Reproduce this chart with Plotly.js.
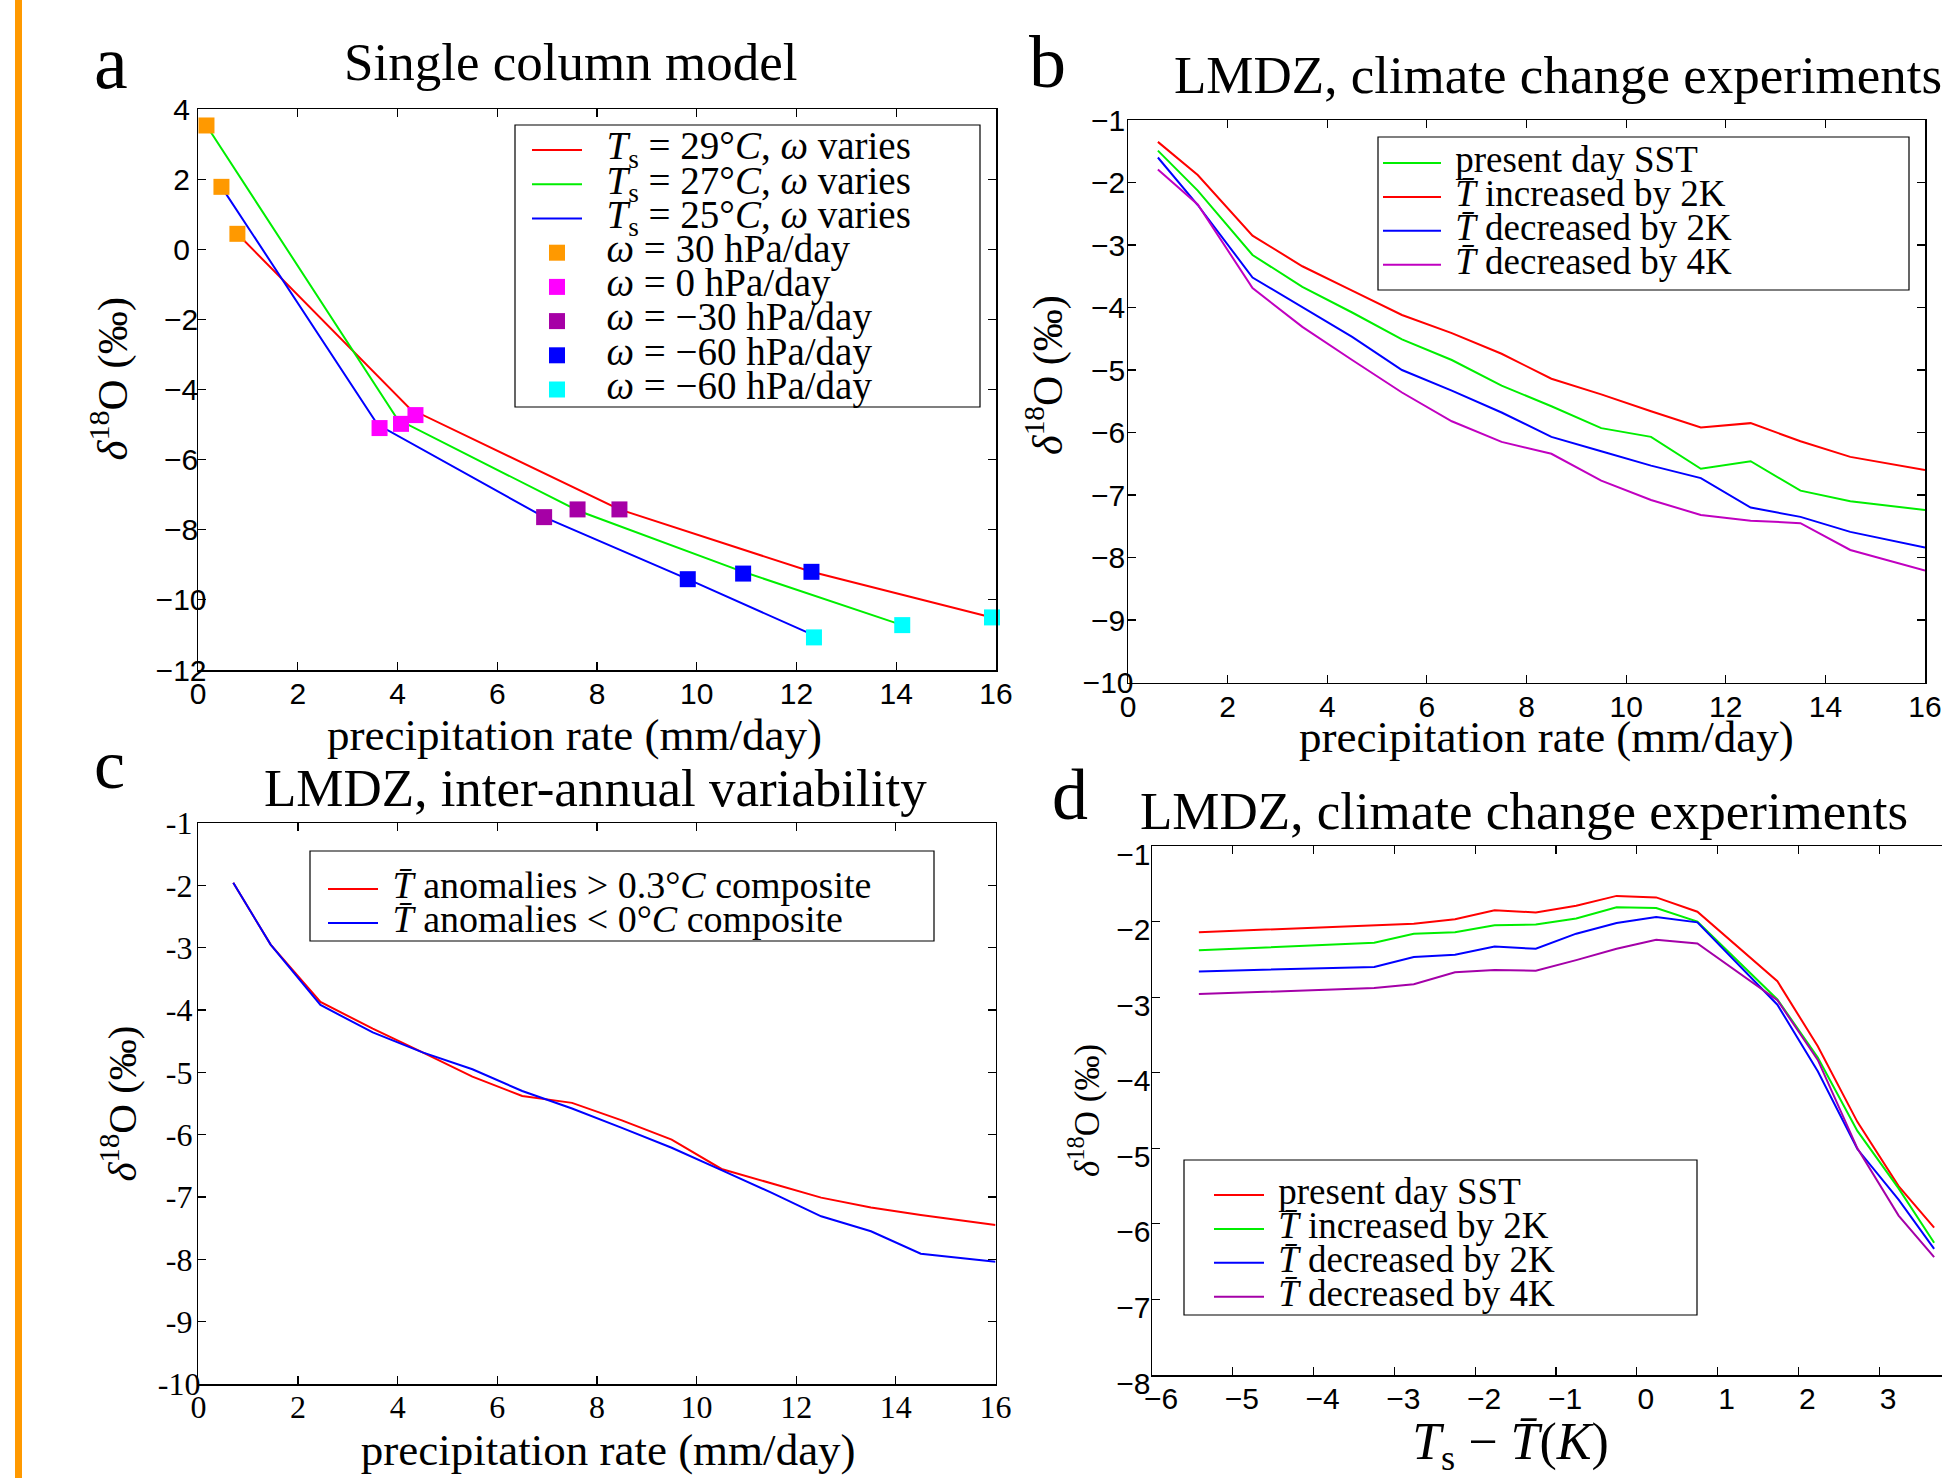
<!DOCTYPE html>
<html><head><meta charset="utf-8">
<script src="https://cdn.plot.ly/plotly-3.0.1.min.js"></script>
<style>html,body{margin:0;padding:0;overflow:hidden;background:#fff}#chart{width:2000px;height:1478px}</style>
</head><body><div id="chart"></div>
<script>
// ---------------- data ----------------
// Panel a: single column model
const aLineNames = ['<i>T</i><sub>s</sub> = 29°<i>C</i>, <i>ω</i> varies', '<i>T</i><sub>s</sub> = 27°<i>C</i>, <i>ω</i> varies', '<i>T</i><sub>s</sub> = 25°<i>C</i>, <i>ω</i> varies'];
const aTs29X = [0.79, 4.25, 8.45, 12.30, 15.92];
const aTs29Y = [0.44, -4.55, -7.42, -9.20, -10.50];
const aTs27X = [0.17, 4.00, 7.61, 10.93, 14.12];
const aTs27Y = [3.53, -4.85, -7.45, -9.20, -10.72];
const aTs25X = [0.47, 3.60, 6.94, 9.82, 12.25];
const aTs25Y = [1.78, -5.00, -7.64, -9.41, -10.95];
const aOmegaNames = ['<i>ω</i> = 30 hPa/day', '<i>ω</i> = 0 hPa/day', '<i>ω</i> = −30 hPa/day', '<i>ω</i> = −60 hPa/day', '<i>ω</i> = −60 hPa/day'];
const aOmega30X = [0.17, 0.47, 0.79];   const aOmega30Y = [3.53, 1.78, 0.44];
const aOmega0X = [3.64, 4.07, 4.36];    const aOmega0Y = [-5.10, -4.98, -4.73];
const aOmegaM30X = [6.94, 7.61, 8.45];  const aOmegaM30Y = [-7.64, -7.42, -7.42];
const aOmegaM60X = [9.82, 10.93, 12.30]; const aOmegaM60Y = [-9.41, -9.25, -9.20];
const aOmegaM90X = [12.35, 14.12, 15.92]; const aOmegaM90Y = [-11.07, -10.72, -10.50];
const aYTickVals = [-12, -10, -8, -6, -4, -2, 0, 2, 4];
const aYTickLabels = ['−12', '−10', '−8', '−6', '−4', '−2', '0', '2', '4'];
const precipTickVals = [0, 2, 4, 6, 8, 10, 12, 14, 16];
const precipTickLabels = ['0', '2', '4', '6', '8', '10', '12', '14', '16'];

// Panel b: LMDZ climate change experiments vs precipitation
const bPrecip = [0.6, 1.4, 2.5, 3.5, 4.5, 5.5, 6.5, 7.5, 8.5, 9.5, 10.5, 11.5, 12.5, 13.5, 14.5, 16];
const bNames = ['present day SST', '<i>T̄</i> increased by 2K', '<i>T̄</i> decreased by 2K', '<i>T̄</i> decreased by 4K'];
const bPresent = [-1.49, -2.13, -3.16, -3.67, -4.08, -4.51, -4.84, -5.25, -5.58, -5.93, -6.07, -6.58, -6.46, -6.93, -7.10, -7.24];
const bPlus2K  = [-1.35, -1.88, -2.85, -3.34, -3.73, -4.12, -4.41, -4.74, -5.14, -5.39, -5.66, -5.92, -5.85, -6.14, -6.39, -6.60];
const bMinus2K = [-1.60, -2.36, -3.52, -3.99, -4.47, -5.00, -5.33, -5.68, -6.07, -6.30, -6.53, -6.73, -7.20, -7.35, -7.59, -7.84];
const bMinus4K = [-1.79, -2.35, -3.69, -4.31, -4.84, -5.36, -5.82, -6.15, -6.34, -6.77, -7.08, -7.32, -7.41, -7.45, -7.88, -8.21];
const bYTickVals = [-10, -9, -8, -7, -6, -5, -4, -3, -2, -1];
const bYTickLabels = ['−10', '−9', '−8', '−7', '−6', '−5', '−4', '−3', '−2', '−1'];

// Panel c: LMDZ inter-annual variability
const cPrecip = [0.7, 1.45, 2.45, 3.5, 4.5, 5.5, 6.5, 7.5, 8.5, 9.5, 10.5, 11.5, 12.5, 13.5, 14.5, 16];
const cNames = ['<i>T̄</i> anomalies &gt; 0.3°<i>C</i> composite', '<i>T̄</i> anomalies &lt; 0°<i>C</i> composite'];
const cWarm = [-1.96, -2.95, -3.87, -4.30, -4.68, -5.07, -5.38, -5.49, -5.77, -6.08, -6.55, -6.78, -7.01, -7.17, -7.29, -7.45];
const cCold = [-1.96, -2.95, -3.92, -4.36, -4.68, -4.95, -5.30, -5.58, -5.89, -6.21, -6.57, -6.93, -7.31, -7.55, -7.91, -8.04];
const cYTickVals = [-10, -9, -8, -7, -6, -5, -4, -3, -2, -1];
const cYTickLabels = ['-10', '-9', '-8', '-7', '-6', '-5', '-4', '-3', '-2', '-1'];

// Panel d: LMDZ climate change experiments vs Ts - Tbar
const dTsDiff = [-5.42, -3.25, -2.76, -2.25, -1.76, -1.25, -0.75, -0.25, 0.24, 0.75, 1.74, 2.24, 2.73, 3.24, 3.68];
const dNames = ['present day SST', '<i>T̄</i> increased by 2K', '<i>T̄</i> decreased by 2K', '<i>T̄</i> decreased by 4K'];
const dPresent = [-2.14, -2.05, -2.03, -1.97, -1.85, -1.88, -1.79, -1.66, -1.68, -1.87, -2.79, -3.65, -4.65, -5.50, -6.05];
const dPlus2K  = [-2.38, -2.28, -2.16, -2.14, -2.05, -2.04, -1.96, -1.81, -1.82, -2.00, -3.03, -3.80, -4.77, -5.53, -6.25];
const dMinus2K = [-2.66, -2.60, -2.47, -2.44, -2.33, -2.36, -2.16, -2.02, -1.94, -2.01, -3.10, -3.98, -5.01, -5.68, -6.33];
const dMinus4K = [-2.96, -2.88, -2.83, -2.67, -2.64, -2.65, -2.51, -2.36, -2.24, -2.29, -3.04, -3.83, -5.00, -5.89, -6.44];
const dXTickVals = [-6, -5, -4, -3, -2, -1, 0, 1, 2, 3, 4];
const dXTickLabels = ['−6', '−5', '−4', '−3', '−2', '−1', '0', '1', '2', '3', '4'];
const dYTickVals = [-8, -7, -6, -5, -4, -3, -2, -1];
const dYTickLabels = ['−8', '−7', '−6', '−5', '−4', '−3', '−2', '−1'];

// ---------------- layout helpers ----------------
const W = 2000, H = 1478;
const fx = x => x / W, fy = y => 1 - y / H;
const SERIF = 'Liberation Serif, Times New Roman, serif';
const SANS = 'Liberation Sans, Arial, Helvetica, sans-serif';
const RED = '#ff0000', GREEN = '#00ee00', BLUE = '#0000ff', PURPLE_B = '#c000c0', PURPLE_D = '#a400a8';
const NB = n => '\u00a0'.repeat(n);
const big = (s, size, pad) => '<span style="font-size:' + size + 'px">' + NB(pad) + s + '</span>';
const padded = (s, lead, trail) => '<span>' + NB(lead) + s + NB(trail) + '</span>';
const padLabels = labels => { const m = Math.max(...labels.map(s => s.length)); return labels.map(s => s + NB(m - s.length)); };

const Y_TITLE = '<i>δ</i><sup>18</sup>O (‰)';
const PRECIP_TITLE = 'precipitation rate (mm/day)';
const D_X_TITLE = '<i>T</i><sub>s</sub> − <i>T̄</i>(<i>K</i>)';

function axis(domain, range, tickvals, ticktext, font, size, extra) {
  return Object.assign({
    domain: domain, range: range, tickmode: 'array', tickvals: tickvals, ticktext: ticktext,
    showline: true, linecolor: 'black', linewidth: 1.5, mirror: 'allticks',
    ticks: 'inside', ticklen: 8, tickwidth: 1.2, tickcolor: 'black',
    showgrid: false, zeroline: false, fixedrange: true,
    tickfont: {family: font, size: size, color: 'black'}
  }, extra || {});
}
const yTitle = (size, standoff, lead) => ({text: padded(Y_TITLE, lead, 0), font: {family: SERIF, size: size, color: 'black'}, standoff: standoff});
const precipTitle = (standoff, lead, trail) => ({text: padded(PRECIP_TITLE, lead, trail), font: {family: SERIF, size: 45, color: 'black'}, standoff: standoff});

function line(x, y, name, color, xa, ya, leg, size, pad) {
  return {type: 'scatter', mode: 'lines', x: x, y: y, name: big(name, size, pad), line: {color: color, width: 2}, xaxis: xa, yaxis: ya, legend: leg};
}
function squares(x, y, name, color) {
  return {type: 'scatter', mode: 'markers', x: x, y: y, name: big(name, 39, 2), cliponaxis: false,
          marker: {symbol: 'square', size: 16, color: color, line: {width: 0}}, xaxis: 'x', yaxis: 'y', legend: 'legend'};
}

const traces = [
  line(aTs29X, aTs29Y, aLineNames[0], RED, 'x', 'y', 'legend', 39, 2),
  line(aTs27X, aTs27Y, aLineNames[1], GREEN, 'x', 'y', 'legend', 39, 2),
  line(aTs25X, aTs25Y, aLineNames[2], BLUE, 'x', 'y', 'legend', 39, 2),
  squares(aOmega30X, aOmega30Y, aOmegaNames[0], '#ff9900'),
  squares(aOmega0X, aOmega0Y, aOmegaNames[1], '#ff00ff'),
  squares(aOmegaM30X, aOmegaM30Y, aOmegaNames[2], '#a600a6'),
  squares(aOmegaM60X, aOmegaM60Y, aOmegaNames[3], '#0000ff'),
  squares(aOmegaM90X, aOmegaM90Y, aOmegaNames[4], '#00ffff'),
  line(bPrecip, bPresent, bNames[0], GREEN, 'x2', 'y2', 'legend2', 37, 1),
  line(bPrecip, bPlus2K, bNames[1], RED, 'x2', 'y2', 'legend2', 37, 1),
  line(bPrecip, bMinus2K, bNames[2], BLUE, 'x2', 'y2', 'legend2', 37, 1),
  line(bPrecip, bMinus4K, bNames[3], PURPLE_B, 'x2', 'y2', 'legend2', 37, 1),
  line(cPrecip, cWarm, cNames[0], RED, 'x3', 'y3', 'legend3', 38, 1),
  line(cPrecip, cCold, cNames[1], BLUE, 'x3', 'y3', 'legend3', 38, 1),
  line(dTsDiff, dPresent, dNames[0], RED, 'x4', 'y4', 'legend4', 37, 1),
  line(dTsDiff, dPlus2K, dNames[1], GREEN, 'x4', 'y4', 'legend4', 37, 1),
  line(dTsDiff, dMinus2K, dNames[2], BLUE, 'x4', 'y4', 'legend4', 37, 1),
  line(dTsDiff, dMinus4K, dNames[3], PURPLE_D, 'x4', 'y4', 'legend4', 37, 1)
];

function legendAt(left, top, itemwidth, fs) {
  return {x: fx(left), y: fy(top), xanchor: 'left', yanchor: 'top', bgcolor: 'rgba(0,0,0,0)', borderwidth: 0,
          font: {family: SERIF, size: fs, color: 'black'}, itemwidth: itemwidth, traceorder: 'normal'};
}
function frame(x0, y0, x1, y1) {
  return {type: 'rect', xref: 'paper', yref: 'paper', x0: fx(x0), x1: fx(x1), y0: fy(y1), y1: fy(y0),
          fillcolor: 'white', line: {color: 'black', width: 1.2}, layer: 'above'};
}
function label(text, x, yc, size, anchor) {
  return {text: text, xref: 'paper', yref: 'paper', x: fx(x), y: fy(yc), xanchor: anchor, yanchor: 'middle', showarrow: false,
          font: {family: SERIF, size: size, color: 'black'}};
}

const layout = {
  width: W, height: H, margin: {l: 0, r: 0, t: 0, b: 0}, paper_bgcolor: 'white', plot_bgcolor: 'white',
  showlegend: true,
  xaxis: axis([fx(198), fx(996)], [0, 16], precipTickVals, precipTickLabels, SANS, 30, {anchor: 'y', ticklabelstandoff: -4, title: precipTitle(2, 0, 4)}),
  yaxis: axis([fy(670), fy(109)], [-12, 4], aYTickVals, padLabels(aYTickLabels), SANS, 30, {anchor: 'x', ticklabelstandoff: -16, title: yTitle(43, 14, 2)}),
  xaxis2: axis([fx(1128), fx(1925)], [0, 16], precipTickVals, precipTickLabels, SANS, 30, {anchor: 'y2', ticklabelstandoff: -3}),
  yaxis2: axis([fy(682.5), fy(120)], [-10, -1], bYTickVals, padLabels(bYTickLabels), SANS, 30, {anchor: 'x2', ticklabelstandoff: -13, title: yTitle(42, 7, 5)}),
  xaxis3: axis([fx(198.4), fx(995.5)], [0, 16], precipTickVals, precipTickLabels, SERIF, 32, {anchor: 'y3', ticklabelstandoff: -6, title: precipTitle(6, 2, 0)}),
  yaxis3: axis([fy(1384), fy(823)], [-10, -1], cYTickVals, padLabels(cYTickLabels), SERIF, 32, {anchor: 'x3', ticklabelstandoff: -10, title: yTitle(41, 8, 0)}),
  xaxis4: axis([fx(1152), fx(1960)], [-6, 4], dXTickVals, dXTickLabels, SANS, 30, {anchor: 'y4', ticklabelstandoff: -4, ticklabelshift: 9, title: {text: padded(D_X_TITLE, 0, 7), font: {family: SERIF, size: 52, color: 'black'}, standoff: 6}}),
  yaxis4: axis([fy(1375), fy(846)], [-8, -1], dYTickVals, padLabels(dYTickLabels), SANS, 30, {anchor: 'x4', ticklabelstandoff: -6, ticklabelshift: 8, title: yTitle(35, 6, 0)}),
  legend: legendAt(527, 128, 50, 24),
  legend2: legendAt(1378, 141, 58, 23.8),
  legend3: legendAt(323, 867, 50, 23.8),
  legend4: legendAt(1209, 1173, 50, 23.8),
  shapes: [
    {type: 'rect', xref: 'paper', yref: 'paper', x0: fx(15), x1: fx(22), y0: 0, y1: 1, fillcolor: '#ff9900', line: {width: 0}, layer: 'above'},
    frame(515, 125, 980, 407),
    frame(1378, 137, 1909, 290),
    frame(310, 851, 934, 941),
    frame(1184, 1160, 1697, 1315)
  ],
  annotations: [
    label('Single column model', 570, 62, 53, 'center'),
    label('LMDZ, climate change experiments', 1172, 75, 53, 'left'),
    label('LMDZ, inter-annual variability', 595, 788, 53, 'center'),
    label('LMDZ, climate change experiments', 1138, 811, 53, 'left'),
    label(PRECIP_TITLE, 1546, 737, 45, 'center'),
    label('a', 92, 62, 76, 'left'),
    label('b', 1027, 62, 74, 'left'),
    label('c', 92, 764, 70, 'left'),
    label('d', 1050, 795, 72, 'left')
  ]
};

Plotly.newPlot('chart', traces, layout, {displayModeBar: false, staticPlot: true});
</script></body></html>
